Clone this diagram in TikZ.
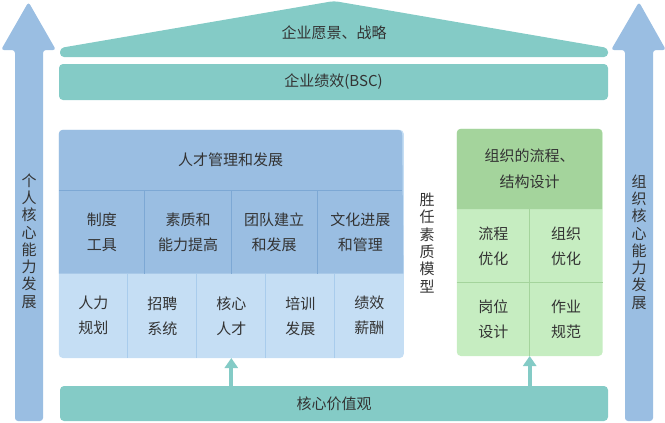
\documentclass[tikz,border=0pt]{standalone}
\usepackage{fontspec}
\setmainfont{Noto Sans CJK SC}
\usepackage{tikz}
\usetikzlibrary{positioning,arrows.meta,backgrounds}

\definecolor{bandteal}{HTML}{84CBC6}
\definecolor{pillarblue}{HTML}{9ABEE2}
\definecolor{headblue}{HTML}{9ABEE2}
\definecolor{lightblue}{HTML}{C5DEF4}
\definecolor{sepdark}{HTML}{7DA8D4}
\definecolor{seplight}{HTML}{A9CCEC}
\definecolor{headgreen}{HTML}{A4D49C}
\definecolor{lightgreen}{HTML}{C6EDC1}
\definecolor{sepgreen}{HTML}{A4D49C}
\definecolor{txtgray}{HTML}{333333}

\tikzset{
  cell/.style={rectangle, inner sep=0pt, align=center, text=txtgray,
    font=\fontsize{15}{25}\selectfont},
  band/.style={rectangle, rounded corners=4pt, fill=bandteal, inner sep=0pt,
    text=txtgray, font=\fontsize{15}{17}\selectfont},
  vtext/.style={align=center, inner sep=0pt, text=txtgray,
    font=\fontsize{15}{17.3}\selectfont},
  uparrow/.style={-{Triangle[width=13pt,length=10pt]}, line width=4pt, draw=bandteal}
}

\begin{document}
\begin{tikzpicture}[x=1pt,y=-1pt]

	% \draw[help lines, step=10pt,gray!20] (0,0) grid (665,423);
	\useasboundingbox (0,0) rectangle (665,423);

	% pillars
	\fill[pillarblue, rounded corners=3pt] (15,421) -- (15,50) -- (1,50) -- (28.5,2)
	  -- (56,50) -- (43,50) -- (43,421) -- cycle;
	\fill[pillarblue, rounded corners=3pt] (625,421) -- (625,50) -- (611,50) -- (639,2)
	  -- (666,50) -- (653,50) -- (653,421) -- cycle;

	\node[vtext] (PERS) at (29,241) {个\\人\\核\\心\\能\\力\\发\\展};
	\node[vtext] (ORGA) at (639,242) {组\\织\\核\\心\\能\\力\\发\\展};

	% roof
	\fill[bandteal, rounded corners=4pt] (60,57) -- (60,48) -- (334,1) -- (608,48)
	  -- (608,57) -- cycle;
	\node[text=txtgray, font=\fontsize{15}{17}\selectfont] (VISION) at (334,33) {企业愿景、战略};

	\node[band,
	minimum width=549pt,
	minimum height=36pt] (BSC) at (333.5,82) {企业绩效(BSC)};

	\node[band,
	minimum width=548pt,
	minimum height=35pt] (CORE) at (334,403.5) {核心价值观};

	% talent block
	\node[cell,
	minimum width=343pt,
	minimum height=60pt] (THEAD) at (230.5,160) {人才管理和发展};

	\node[cell, minimum width=85.75pt, minimum height=83pt] (M1)
	  [below right=0pt and 0pt of THEAD.south west] {制度\\工具};
	\node[cell, minimum width=85.75pt, minimum height=83pt] (M2) [right=0pt of M1] {素质和\\能力提高};
	\node[cell, minimum width=85.75pt, minimum height=83pt] (M3) [right=0pt of M2] {团队建立\\和发展};
	\node[cell, minimum width=85.75pt, minimum height=83pt] (M4) [right=0pt of M3] {文化进展\\和管理};

	\node[cell, minimum width=68.6pt, minimum height=84pt] (B1)
	  [below right=0pt and 0pt of M1.south west] {人力\\规划};
	\node[cell, minimum width=68.6pt, minimum height=84pt] (B2) [right=0pt of B1] {招聘\\系统};
	\node[cell, minimum width=68.6pt, minimum height=84pt] (B3) [right=0pt of B2] {核心\\人才};
	\node[cell, minimum width=68.6pt, minimum height=84pt] (B4) [right=0pt of B3] {培训\\发展};
	\node[cell, minimum width=68.6pt, minimum height=84pt] (B5) [right=0pt of B4] {绩效\\薪酬};

	\node[vtext] (MODEL) at (427,243) {胜\\任\\素\\质\\模\\型};

	% organisation block
	\node[cell,
	minimum width=145pt,
	minimum height=80pt,
	font=\fontsize{15}{26.5}\selectfont] (OHEAD) at (529.5,169) {组织的流程、\\结构设计};

	\node[cell, minimum width=72.5pt, minimum height=73pt] (R1)
	  [below right=0pt and 0pt of OHEAD.south west] {流程\\优化};
	\node[cell, minimum width=72.5pt, minimum height=73pt] (R2) [right=0pt of R1] {组织\\优化};
	\node[cell, minimum width=72.5pt, minimum height=73pt] (R3)
	  [below right=0pt and 0pt of R1.south west] {岗位\\设计};
	\node[cell, minimum width=72.5pt, minimum height=73pt] (R4) [right=0pt of R3] {作业\\规范};

	\begin{scope}[on background layer]
	  \fill[lightblue, rounded corners=4pt] (THEAD.north west) rectangle (B5.south east);
	  \fill[headblue] (M1.south west) {[rounded corners=4pt] -- (THEAD.north west)
	    -- (THEAD.north east)} -- (M4.south east) -- cycle;
	  \draw[sepdark, line width=1pt] (THEAD.south west) -- (THEAD.south east);
	  \foreach \c in {M1,M2,M3}
	    \draw[sepdark, line width=1pt] (\c.north east) -- (\c.south east);
	  \foreach \c in {B1,B2,B3,B4}
	    \draw[seplight, line width=1pt] (\c.north east) -- (\c.south east);

	  \fill[lightgreen, rounded corners=4pt] (OHEAD.north west) rectangle (R4.south east);
	  \fill[headgreen] (OHEAD.south west) {[rounded corners=4pt] -- (OHEAD.north west)
	    -- (OHEAD.north east)} -- (OHEAD.south east) -- cycle;
	  \draw[sepgreen, line width=1pt] (R1.south west) -- (R2.south east);
	  \draw[sepgreen, line width=1pt] (R1.north east) -- (R3.south east);
	\end{scope}

    \draw[uparrow] (CORE.north -| B3.south) -- (B3.south);
    \draw[uparrow] (CORE.north -| R3.south east) -- (R3.south east);

\end{tikzpicture}
\end{document}
